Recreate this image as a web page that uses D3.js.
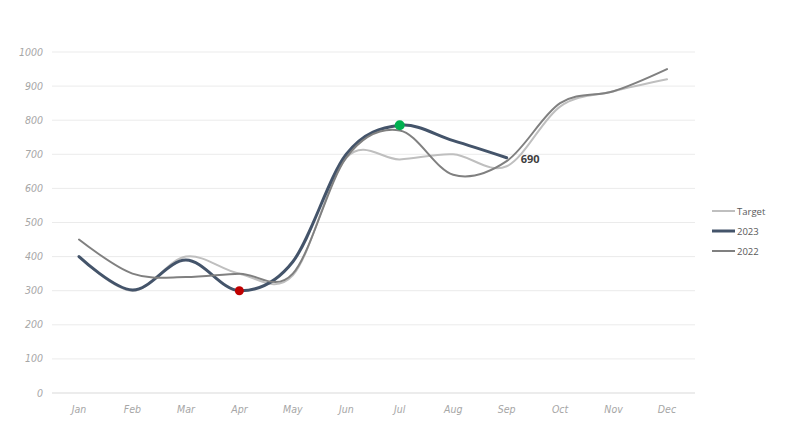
<!DOCTYPE html>
<html>
<head>
<meta charset="utf-8">
<script src="https://cdn.jsdelivr.net/npm/d3@7"></script>
<style>
  body { margin: 0; background: #fff; }
  text { font-family: "Open Sans", "Liberation Sans", sans-serif; }
  .ax { font-family: "Liberation Sans Narrow", "DejaVu Sans Condensed", sans-serif; }
</style>
</head>
<body>
<script>
let width = 810;
let height = 431;

let months = ["Jan", "Feb", "Mar", "Apr", "May", "Jun", "Jul", "Aug", "Sep", "Oct", "Nov", "Dec"];
let target = [400, 300, 400, 350, 345, 690, 685, 700, 665, 840, 885, 920];
let y2023 = [400, 302, 390, 300, 385, 700, 785, 740, 690];
let y2022 = [450, 350, 340, 350, 350, 690, 770, 640, 680, 850, 885, 950];
let yTicks = [0, 100, 200, 300, 400, 500, 600, 700, 800, 900, 1000];

let svg = d3.select("body").append("svg")
    .attr("width", width)
    .attr("height", height);

let x = d3.scalePoint()
    .domain(months)
    .range([79, 667]);

let y = d3.scaleLinear()
    .domain([0, 1000])
    .range([393, 52]);

// gridlines
svg.selectAll("line.grid")
    .data(yTicks)
    .enter()
    .append("line")
    .attr("x1", 52)
    .attr("x2", 695)
    .attr("y1", d => y(d))
    .attr("y2", d => y(d))
    .attr("stroke", d => d === 0 ? "#d9d9d9" : "#ebebeb")
    .attr("stroke-width", 1);

// y labels
svg.selectAll("text.ylab")
    .data(yTicks)
    .enter()
    .append("text")
    .attr("class", "ax")
    .attr("x", 43)
    .attr("y", d => y(d) + 3.5)
    .attr("text-anchor", "end")
    .attr("font-size", 10.5)
    .attr("font-style", "italic")
    .attr("fill", "#a6a6a6")
    .text(d => d);

// x labels
svg.selectAll("text.xlab")
    .data(months)
    .enter()
    .append("text")
    .attr("class", "ax")
    .attr("x", d => x(d))
    .attr("y", 413)
    .attr("text-anchor", "middle")
    .attr("font-size", 10.5)
    .attr("font-style", "italic")
    .attr("fill", "#a6a6a6")
    .text(d => d);

let line = d3.line()
    .x((d, i) => x(months[i]))
    .y(d => y(d))
    .curve(d3.curveCardinal.tension(0));

let series = [
    { name: "Target", values: target, color: "#bfbfbf", w: 2 },
    { name: "2023", values: y2023, color: "#44546a", w: 3 },
    { name: "2022", values: y2022, color: "#808080", w: 2 }
];

series.forEach(s => {
    svg.append("path")
        .attr("d", line(s.values))
        .attr("fill", "none")
        .attr("stroke", s.color)
        .attr("stroke-width", s.w)
        .attr("stroke-linecap", "round");
});

// min / max markers for 2023
let minI = y2023.indexOf(d3.min(y2023));
let maxI = y2023.indexOf(d3.max(y2023));
svg.append("circle")
    .attr("cx", x(months[minI]))
    .attr("cy", y(y2023[minI]))
    .attr("r", 4.5)
    .attr("fill", "#c00000");
svg.append("circle")
    .attr("cx", x(months[maxI]))
    .attr("cy", y(y2023[maxI]))
    .attr("r", 5)
    .attr("fill", "#00b050");

// last value label
let last = y2023.length - 1;
svg.append("text")
    .attr("x", x(months[last]) + 14)
    .attr("y", y(y2023[last]) + 5)
    .attr("font-size", 11)
    .attr("font-weight", "bold")
    .attr("fill", "#404040")
    .text(y2023[last]);

// legend
let legend = svg.selectAll("g.legend")
    .data(series)
    .enter()
    .append("g")
    .attr("transform", (d, i) => "translate(712," + (211 + i * 20) + ")");

legend.append("line")
    .attr("x1", 0)
    .attr("x2", 23)
    .attr("stroke", d => d.color)
    .attr("stroke-width", d => d.w);

legend.append("text")
    .attr("x", 25)
    .attr("y", 3.5)
    .attr("font-size", 9.5)
    .attr("fill", "#595959")
    .text(d => d.name);
</script>
</body>
</html>
